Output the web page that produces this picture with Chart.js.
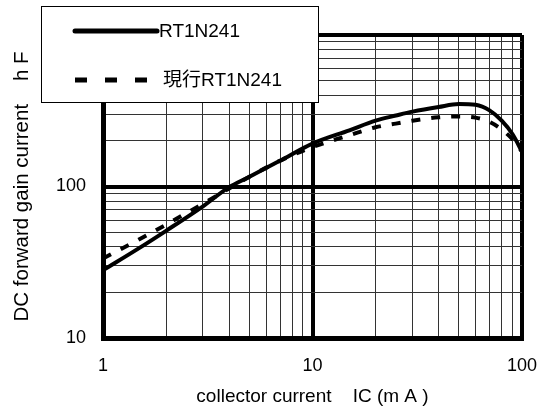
<!DOCTYPE html>
<html>
<head>
<meta charset="utf-8">
<script src="https://cdn.jsdelivr.net/npm/chart.js@4"></script>
<style>
    html, body { margin: 0; padding: 0; background: #fff; }
    #wrap { width: 547px; height: 412px; position: relative; }
</style>
</head>
<body>
<div id="wrap"><canvas id="hfeChart"></canvas></div>
<script>
// collector current (mA) and DC current gain
const currentMA = [1, 1.5, 2, 3, 4, 5, 7, 10, 15, 20, 25, 30, 40, 50, 60, 70, 80, 90, 100];
const hfeNew = [28, 39.5, 51, 74, 99, 116, 148, 192, 235, 272, 294, 312, 335, 350, 346, 318, 272, 222, 170];
const hfeOld = [33.5, 45, 56, 77, 97, 116, 148, 182, 218, 246, 260, 272, 286, 290, 285, 267, 238, 205, 170];

const seriesLabels = ['RT1N241', '現行RT1N241'];

// tick positions (log grid) and which of them get a label
const xTicks = [1, 2, 3, 4, 5, 6, 7, 8, 9, 10, 20, 30, 40, 50, 60, 70, 80, 90, 100];
const yTicks = [10, 20, 30, 40, 50, 60, 70, 80, 90, 100, 200, 300, 400, 500, 600, 700, 800, 900, 1000];
const xLabeled = [1, 10, 100];
const yLabeled = [10, 100, 1000];

const FONT = '"Liberation Sans", Arial, "Noto Sans CJK JP", sans-serif';

function isDecade(v) {
    const l = Math.log10(v);
    return Math.abs(l - Math.round(l)) < 1e-9;
}

function gridWidth(ctx) {
    if (!ctx.tick) return 1;
    return isDecade(ctx.tick.value) ? 4 : 1;
}

function gridColor(ctx) {
    if (!ctx.tick) return '#333';
    return isDecade(ctx.tick.value) ? '#000' : '#333';
}

// boxed legend drawn over the top-left of the plot, like the original sheet
const boxLegend = {
    id: 'boxLegend',
    afterDraw(chart) {
        const c = chart.ctx;
        c.save();
        c.fillStyle = '#fff';
        c.fillRect(41, 6, 278, 97);
        c.strokeStyle = '#000';
        c.lineWidth = 1;
        c.strokeRect(41.5, 6.5, 277, 96);

        const rows = [
            { y: 31, x0: 75, x1: 157, tx: 159 },
            { y: 80, x0: 75, x1: 147, tx: 163 }
        ];
        chart.data.datasets.forEach((ds, i) => {
            const r = rows[i];
            c.beginPath();
            c.lineWidth = 5;
            c.strokeStyle = '#000';
            if (i === 0) {
                c.lineCap = 'round';
                c.setLineDash([]);
            } else {
                c.lineCap = 'butt';
                c.setLineDash([12, 18]);
            }
            c.moveTo(r.x0, r.y);
            c.lineTo(r.x1, r.y);
            c.stroke();
            c.setLineDash([]);
            c.fillStyle = '#000';
            c.font = '19px ' + FONT;
            c.textBaseline = 'middle';
            c.textAlign = 'left';
            c.fillText(ds.label, r.tx, r.y + 1);
        });
        c.restore();
    }
};

const ctx = document.getElementById('hfeChart').getContext('2d');

new Chart(ctx, {
    type: 'line',
    data: {
        datasets: [
            {
                label: seriesLabels[0],
                data: currentMA.map((x, i) => ({ x: x, y: hfeNew[i] })),
                borderColor: '#000',
                borderWidth: 4,
                pointRadius: 0,
                cubicInterpolationMode: 'monotone',
                fill: false
            },
            {
                label: seriesLabels[1],
                data: currentMA.map((x, i) => ({ x: x, y: hfeOld[i] })),
                borderColor: '#000',
                borderWidth: 4,
                borderDash: [9, 11],
                pointRadius: 0,
                cubicInterpolationMode: 'monotone',
                fill: false
            }
        ]
    },
    options: {
        responsive: true,
        maintainAspectRatio: false,
        animation: false,
        layout: {
            padding: { top: 35, right: 25, left: 0, bottom: 0 }
        },
        plugins: {
            legend: { display: false },
            tooltip: { enabled: false }
        },
        scales: {
            x: {
                type: 'logarithmic',
                min: 1,
                max: 100,
                afterBuildTicks: (scale) => {
                    scale.ticks = xTicks.map(v => ({ value: v }));
                },
                afterFit: (scale) => {
                    scale.height = 74;
                    scale.paddingLeft = 0;
                    scale.paddingRight = 0;
                },
                ticks: {
                    autoSkip: false,
                    maxRotation: 0,
                    padding: 17,
                    color: '#000',
                    font: { family: FONT, size: 18 },
                    callback: (v) => xLabeled.includes(v) ? String(v) : ''
                },
                grid: {
                    drawTicks: false,
                    color: gridColor,
                    lineWidth: gridWidth
                },
                border: { display: true, color: '#000', width: 5 },
                title: {
                    display: true,
                    text: 'collector current    IC (m A )',
                    color: '#000',
                    font: { family: FONT, size: 19 },
                    padding: { top: 0, bottom: 4 }
                }
            },
            y: {
                type: 'logarithmic',
                min: 10,
                max: 1000,
                afterBuildTicks: (scale) => {
                    scale.ticks = yTicks.map(v => ({ value: v }));
                },
                afterFit: (scale) => {
                    scale.width = 103;
                    scale.paddingTop = 0;
                    scale.paddingBottom = 0;
                },
                ticks: {
                    autoSkip: false,
                    padding: 17,
                    color: '#000',
                    font: { family: FONT, size: 18 },
                    callback: (v) => yLabeled.includes(v) ? String(v) : ''
                },
                grid: {
                    drawTicks: false,
                    color: gridColor,
                    lineWidth: gridWidth
                },
                border: { display: true, color: '#000', width: 5 },
                title: {
                    display: true,
                    text: 'DC forward gain current    h F',
                    color: '#000',
                    font: { family: FONT, size: 20.5 },
                    padding: { top: 10, bottom: 0 }
                }
            }
        }
    },
    plugins: [boxLegend]
});
</script>
</body>
</html>
